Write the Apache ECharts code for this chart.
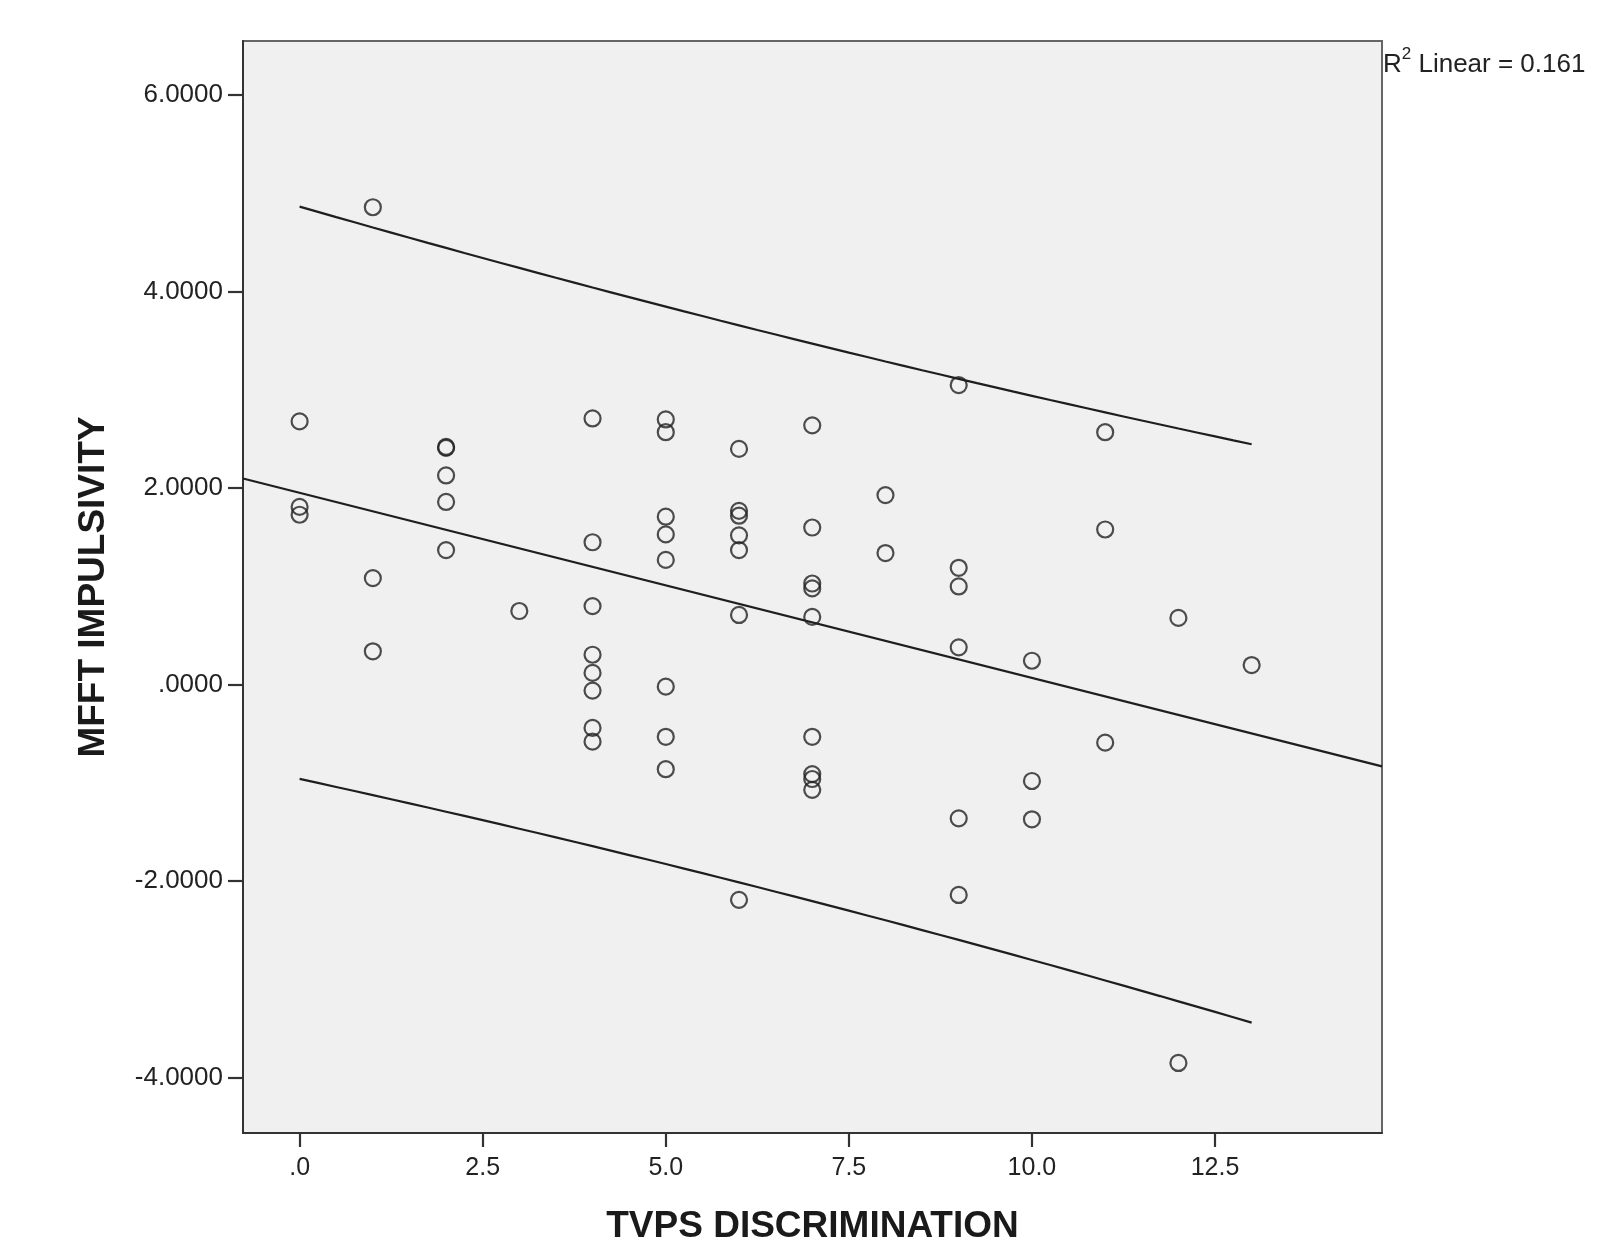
<!DOCTYPE html>
<html>
<head>
<meta charset="utf-8">
<script src="https://cdn.jsdelivr.net/npm/echarts@6/dist/echarts.min.js"></script>
<style>
  html, body { margin: 0; padding: 0; background: #fff; }
  #chart { width: 1601px; height: 1248px; }
</style>
</head>
<body>
<div id="chart"></div>
<script>
// TVPS discrimination score of each child (x)
var tvps = [
  0, 0, 0,
  1, 1, 1,
  2, 2, 2, 2, 2,
  3,
  4, 4, 4, 4, 4, 4, 4, 4,
  5, 5, 5, 5, 5, 5, 5, 5,
  6, 6, 6, 6, 6, 6, 6,
  7, 7, 7, 7, 7, 7, 7, 7, 7,
  8, 8,
  9, 9, 9, 9, 9, 9,
  10, 10, 10,
  11, 11, 11,
  12, 12,
  13
];
// MFFT impulsivity of each child (y)
var mfft = [
  2.68, 1.81, 1.73,
  4.86, 1.085, 0.34,
  2.42, 2.41, 2.13, 1.86, 1.37,
  0.75,
  2.71, 1.45, 0.80, 0.305, 0.12, -0.06, -0.44, -0.58,
  2.70, 2.57, 1.71, 1.53, 1.27, -0.02, -0.53, -0.86,
  2.40, 1.77, 1.72, 1.52, 1.37, 0.71, -2.19,
  2.64, 1.60, 1.03, 0.98, 0.69, -0.53, -0.91, -0.96, -1.07,
  1.93, 1.34,
  3.05, 1.19, 1.00, 0.38, -1.36, -2.14,
  0.244, -0.98, -1.37,
  2.57, 1.58, -0.59,
  0.68, -3.85,
  0.20
];
// tick positions and axis extents
var xTicks = [0, 2.5, 5, 7.5, 10, 12.5];
var yTicks = [-4, -2, 0, 2, 4, 6];
var xRange = [-0.773, 14.78];
var yRange = [-4.563, 6.552];
var rSquaredValue = '0.161';

// 线性回归 + 95% 个体预测区间
var n = tvps.length;
var mx = 0, my = 0;
for (var i = 0; i < n; i++) { mx += tvps[i]; my += mfft[i]; }
mx /= n; my /= n;
var sxx = 0, sxy = 0;
for (var i = 0; i < n; i++) {
  sxx += (tvps[i] - mx) * (tvps[i] - mx);
  sxy += (tvps[i] - mx) * (mfft[i] - my);
}
var slope = sxy / sxx;
var intercept = my - slope * mx;
var sse = 0;
for (var i = 0; i < n; i++) {
  var r = mfft[i] - (intercept + slope * tvps[i]);
  sse += r * r;
}
var s = Math.sqrt(sse / (n - 2));
var tCrit = 2.001; // df ≈ 59

var fitLine = [
  [xRange[0], intercept + slope * xRange[0]],
  [xRange[1], intercept + slope * xRange[1]]
];
var xLo = Math.min.apply(null, tvps), xHi = Math.max.apply(null, tvps);
var upper = [], lower = [];
for (var k = 0; k <= 52; k++) {
  var xv = xLo + (xHi - xLo) * k / 52;
  var yh = intercept + slope * xv;
  var hw = tCrit * s * Math.sqrt(1 + 1 / n + (xv - mx) * (xv - mx) / sxx);
  upper.push([xv, yh + hw]);
  lower.push([xv, yh - hw]);
}

var points = tvps.map(function (x, i) { return [x, mfft[i]]; });

var lineStyle = { color: '#1e1e1e', width: 2.2 };
function curve(data) {
  return {
    type: 'line', data: data, showSymbol: false, symbol: 'none',
    lineStyle: lineStyle, silent: true, z: 3
  };
}

var chart = echarts.init(document.getElementById('chart'));
chart.setOption({
  animation: false,
  textStyle: { fontFamily: '"Liberation Sans", Arial, sans-serif' },
  grid: {
    left: 243, top: 41, right: 219, bottom: 115,
    containLabel: false, outerBoundsMode: 'none',
    show: true, backgroundColor: '#f0f0f0',
    borderColor: '#666', borderWidth: 2
  },
  xAxis: {
    type: 'value', min: xRange[0], max: xRange[1],
    splitLine: { show: false },
    axisLine: { onZero: false, lineStyle: { color: '#333', width: 2 } },
    axisTick: { customValues: xTicks, length: 14, lineStyle: { color: '#333', width: 2.2 } },
    axisLabel: {
      customValues: xTicks, margin: 23, color: '#222', fontSize: 25,
      formatter: function (v) { return v === 0 ? '.0' : v.toFixed(1); }
    },
    name: 'TVPS DISCRIMINATION', nameLocation: 'middle', nameGap: 75,
    nameTextStyle: { fontSize: 37, fontWeight: 'bold', color: '#1a1a1a' }
  },
  yAxis: {
    type: 'value', min: yRange[0], max: yRange[1],
    splitLine: { show: false },
    axisLine: { onZero: false, lineStyle: { color: '#333', width: 2 } },
    axisTick: { customValues: yTicks, length: 15, lineStyle: { color: '#333', width: 2.2 } },
    axisLabel: {
      customValues: yTicks, margin: 20, color: '#222', fontSize: 26,
      formatter: function (v) { return v === 0 ? '.0000' : v.toFixed(4); }
    },
    name: 'MFFT IMPULSIVITY', nameLocation: 'middle', nameGap: 131,
    nameTextStyle: { fontSize: 37, fontWeight: 'bold', color: '#1a1a1a' }
  },
  graphic: [{
    type: 'text', left: 1383, top: 46,
    style: {
      text: '{a|R}{sup|2}{a| Linear = ' + rSquaredValue + '}',
      rich: {
        a: { fontSize: 26, fill: '#222', fontFamily: '"Liberation Sans", Arial, sans-serif', verticalAlign: 'bottom', lineHeight: 32 },
        sup: { fontSize: 17, fill: '#222', fontFamily: '"Liberation Sans", Arial, sans-serif', verticalAlign: 'top', lineHeight: 32 }
      }
    }
  }],
  series: [
    {
      type: 'scatter', data: points, symbol: 'circle', symbolSize: 16,
      itemStyle: { color: 'rgba(0,0,0,0)', borderColor: '#222', borderWidth: 2.2 },
      z: 4
    },
    curve(fitLine),
    curve(upper),
    curve(lower)
  ]
});
</script>
</body>
</html>
